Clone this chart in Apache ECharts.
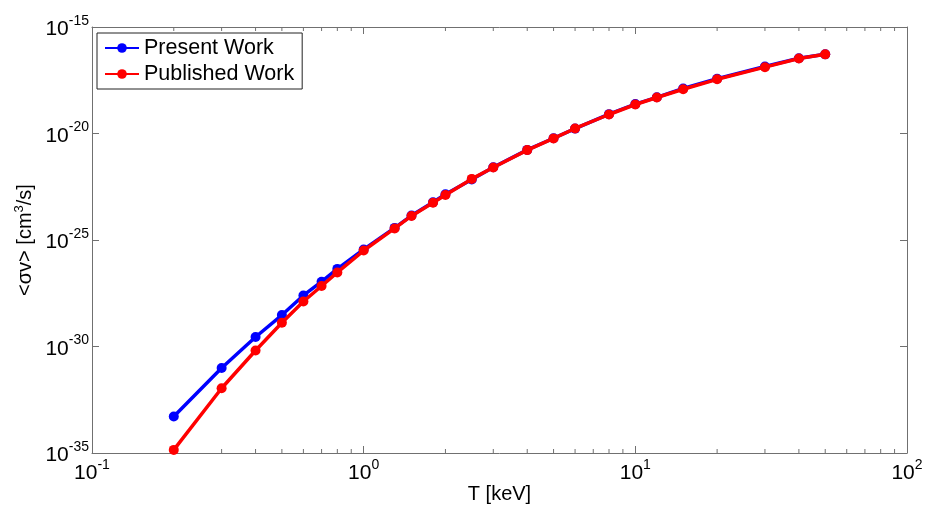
<!DOCTYPE html>
<html>
<head>
<meta charset="utf-8">
<script src="https://cdn.jsdelivr.net/npm/echarts@6/dist/echarts.min.js"></script>
<style>html,body{margin:0;padding:0;background:#fff;}#c{width:925px;height:506px;}</style>
</head>
<body>
<div id="c"></div>
<script>
const temperatures = [0.2,0.3,0.4,0.5,0.6,0.7,0.8,1.0,1.3,1.5,1.8,2.0,2.5,3,4,5,6,8,10,12,15,20,30,40,50];
const presentWork = [5.2e-34,9.8e-32,2.8e-30,3.0e-29,2.5e-28,1.1e-27,4.4e-27,3.6e-26,3.7e-25,1.4e-24,5.9e-24,1.4e-23,6.9e-23,2.6e-22,1.7e-21,6.0e-21,1.7e-20,8.1e-20,2.4e-19,5.0e-19,1.3e-18,3.7e-18,1.4e-17,3.4e-17,5.2e-17];
const publishedWork = [1.4e-35,1.1e-32,6.5e-31,1.3e-29,1.3e-28,6.9e-28,3.0e-27,3.2e-26,3.5e-25,1.35e-24,5.6e-24,1.3e-23,7.4e-23,2.55e-22,1.66e-21,5.9e-21,1.72e-20,7.8e-20,2.3e-19,4.9e-19,1.2e-18,3.5e-18,1.3e-17,3.3e-17,5.2e-17];
const xMinorTicks = [0.2,0.3,0.4,0.5,0.6,0.7,0.8,0.9,2,3,4,5,6,7,8,9,20,30,40,50,60,70,80,90];
const xDecades = [-1, 2];      // 10^-1 .. 10^2
const yDecades = [-35, -15];   // 10^-35 .. 10^-15
const seriesNames = ['Present Work','Published Work'];
const xTitle = 'T [keV]';
const yTitle = '<σv> [cm{s|3}/s]';

const FONT = 'Liberation Sans, Arial, sans-serif';
const AXC = '#707070';
const lg = v => Math.log10(v);
function powLabel(e){
  return '{b|10}{s|' + Math.round(e) + '}';
}
const richLab = {
  b:{fontSize:21,fontFamily:FONT,color:'#000',lineHeight:26,verticalAlign:'bottom'},
  s:{fontSize:14,fontFamily:FONT,color:'#000',lineHeight:26,verticalAlign:'top',padding:[0,0,16,0]}
};
const chart = echarts.init(document.getElementById('c'));
function xAxisCfg(pos, show){
  return {
    type:'value', min:xDecades[0], max:xDecades[1], interval:1, position:pos,
    axisLine:{show:true,onZero:false,lineStyle:{color:AXC,width:1}},
    axisTick:{show:true,inside:true,length:7,lineStyle:{color:AXC}},
    splitLine:{show:false},
    axisLabel:{show:show,formatter:powLabel,rich:richLab,margin:5},
    name: show ? xTitle : '', nameLocation:'middle', nameGap:31, nameMoveOverlap:false,
    nameTextStyle:{fontSize:20,fontFamily:FONT,color:'#000'}
  };
}
function yAxisCfg(pos, show){
  return {
    type:'value', min:yDecades[0], max:yDecades[1], interval:5, position:pos,
    axisLine:{show:true,onZero:false,lineStyle:{color:AXC,width:1}},
    axisTick:{show:true,inside:true,length:7,lineStyle:{color:AXC}},
    splitLine:{show:false},
    axisLabel:{show:show,formatter:powLabel,rich:richLab,margin:3},
    name: show ? yTitle : '', nameLocation:'middle', nameGap:54, nameRotate:90, nameMoveOverlap:false,
    nameTextStyle:{fontSize:20,fontFamily:FONT,color:'#000',
      rich:{s:{fontSize:13,fontFamily:FONT,color:'#000',verticalAlign:'top',padding:[0,0,12,0]}}}
  };
}
const option = {
  backgroundColor:'#fff',
  animation:false,
  grid:{left:92,right:18,top:27,bottom:53,containLabel:false,outerBoundsMode:'none'},
  legend:{
    data:seriesNames, orient:'vertical', left:97, top:33,
    backgroundColor:'#fff', borderColor:'#222', borderWidth:1,
    padding:[4,8,4,7], itemGap:4, itemWidth:34, itemHeight:12,
    textStyle:{fontSize:21.5,fontFamily:FONT,color:'#000'}
  },
  xAxis:[xAxisCfg('bottom',true), xAxisCfg('top',false)],
  yAxis:[yAxisCfg('left',true), yAxisCfg('right',false)],
  series:[
    {
      type:'custom', silent:true, xAxisIndex:0, yAxisIndex:0, z:1,
      data:xMinorTicks.map(v=>[lg(v)]),
      renderItem:function(params, api){
        const cs = params.coordSys;
        const x = api.coord([api.value(0), yDecades[0]])[0];
        const yb = cs.y + cs.height, yt = cs.y;
        const st = {stroke:AXC, lineWidth:1};
        return {type:'group', children:[
          {type:'line', shape:{x1:x,y1:yb,x2:x,y2:yb-4}, style:st},
          {type:'line', shape:{x1:x,y1:yt,x2:x,y2:yt+4}, style:st}
        ]};
      }
    },
    {
      name:seriesNames[0], type:'line', xAxisIndex:0, yAxisIndex:0,
      data:temperatures.map((t,i)=>[lg(t),lg(presentWork[i])]),
      symbol:'circle', symbolSize:10, color:'#0000ff',
      lineStyle:{width:3.5,color:'#0000ff'}, itemStyle:{color:'#0000ff'}, z:3
    },
    {
      name:seriesNames[1], type:'line', xAxisIndex:0, yAxisIndex:0,
      data:temperatures.map((t,i)=>[lg(t),lg(publishedWork[i])]),
      symbol:'circle', symbolSize:10, color:'#ff0000',
      lineStyle:{width:3.5,color:'#ff0000'}, itemStyle:{color:'#ff0000'}, z:4
    }
  ]
};
chart.setOption(option);
</script>
</body>
</html>
